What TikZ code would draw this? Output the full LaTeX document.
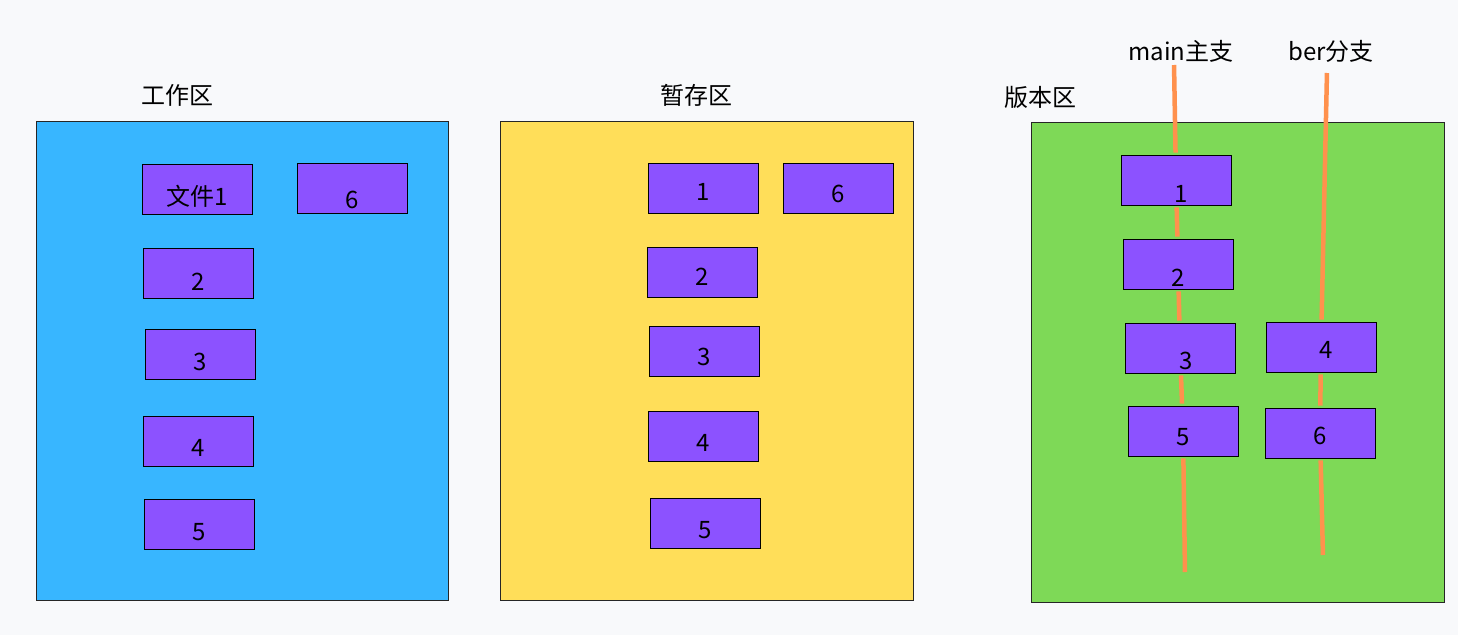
\documentclass[tikz,border=0pt]{standalone}
\usepackage{fontspec}
\setmainfont{Noto Sans CJK SC}
\definecolor{bgc}{HTML}{F8F9FB}
\definecolor{workc}{HTML}{38B6FF}
\definecolor{stagec}{HTML}{FFDE59}
\definecolor{repoc}{HTML}{7ED957}
\definecolor{filec}{HTML}{8C52FF}
\definecolor{linec}{HTML}{FF914D}
\begin{document}
\begin{tikzpicture}[x=1pt,y=-1pt,
  area/.style={draw=black!85,line width=0.8pt},
  box/.style={draw=black,fill=filec,line width=0.8pt,minimum width=110pt,minimum height=50pt,inner sep=0pt,text height=#1,text depth=0pt,font=\fontsize{24}{28}\selectfont},
  box/.default=32pt,
  title/.style={font=\fontsize{24}{28}\selectfont},
  branch/.style={draw=linec,line width=4.5pt,shorten <=2pt,shorten >=2pt}]
\fill[bgc] (0,0) rectangle (1458,635);
\useasboundingbox (0,0) rectangle (1458,635);
\filldraw[area,fill=workc] (36,121) rectangle (448,600);
\filldraw[area,fill=stagec] (500,121) rectangle (913,600);
\filldraw[area,fill=repoc] (1031,122) rectangle (1444,602);
\node[title] (tw) at (177,95) {工作区};
\node[title] (ts) at (696,95) {暂存区};
\node[title] (tr) at (1040,97) {版本区};
\node[title] (tmain) at (1181,51) {main主支};
\node[title] (tber) at (1331,51) {ber分支};

\node[box] (w1) at (197,189) {文件1};
\node[box=40pt] (w6) at (352,188) {6};
\node[box=34pt] (w2) at (198,273) {2};
\node[box] (w3) at (200,354) {3};
\node[box=30pt] (w4) at (198,441) {4};
\node[box] (w5) at (199,524) {5};

\node[box=24pt] (s1) at (703,188) {1};
\node[box=28pt] (s6) at (838,188) {6};
\node[box=26pt] (s2) at (702,272) {2};
\node[box=28pt] (s3) at (704,351) {3};
\node[box=30pt] (s4) at (703,436) {4};
\node[box=30pt] (s5) at (705,523) {5};

\node[box=44pt] (v1) at (1176,180) {\hspace{10pt}1};
\node[box=44pt] (v2) at (1178,264) {2};
\node[box=42pt] (v3) at (1180,348) {\hspace{12pt}3};
\node[box=28pt] (v5) at (1183,431) {5};
\node[box=22pt] (v4) at (1321,347) {\hspace{10pt}4};
\node[box=22pt] (v6) at (1320,433) {6};

\coordinate (mtop) at (1174,63);
\coordinate (mbot) at (1185,574);
\coordinate (btop) at (1327,71);
\coordinate (bbot) at (1323,557);
\draw[branch] (mtop) -- (v1);
\draw[branch] (v1) -- (v2);
\draw[branch] (v2) -- (v3);
\draw[branch] (v3) -- (v5);
\draw[branch] (v5) -- (mbot);
\draw[branch] (btop) -- (v4);
\draw[branch] (v4) -- (v6);
\draw[branch] (v6) -- (bbot);
\end{tikzpicture}
\end{document}
